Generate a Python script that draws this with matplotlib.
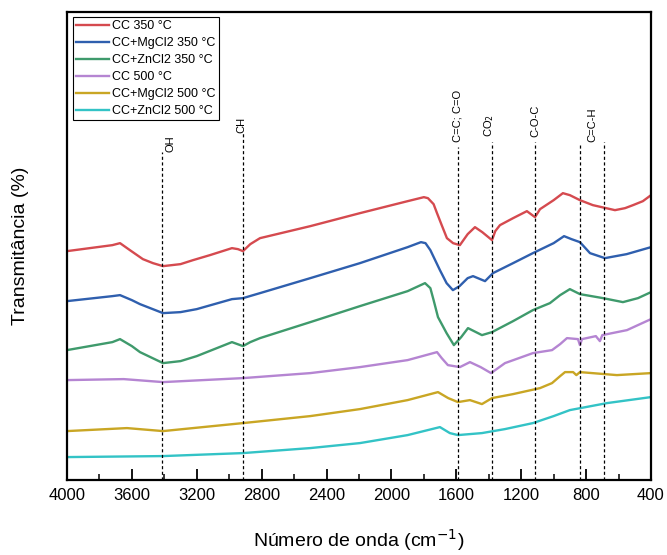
import numpy as np
import matplotlib
matplotlib.use('Agg')
import matplotlib.pyplot as plt
from matplotlib.ticker import MultipleLocator

plt.rcParams['font.family'] = ['Liberation Sans', 'DejaVu Sans']

# FTIR spectra, values (arbitrary offset units)
wn_cc350 = [4000, 3720, 3673, 3612, 3532, 3470, 3408, 3300, 3223, 3119, 2983, 2946, 2915,
            2870, 2810, 2500, 2194, 1900, 1800, 1775, 1740, 1719, 1690, 1658, 1620, 1578,
            1530, 1485, 1440, 1380, 1360, 1331, 1250, 1165, 1115, 1084, 1000, 943, 900,
            838, 758, 622, 560, 511, 450, 400]
t_cc350 = [229, 235, 237, 230, 221, 217, 214, 216, 220, 225, 232, 231, 229,
           236, 242, 254, 267, 279, 283, 282, 276, 267, 255, 242, 237, 235,
           246, 253, 248, 240, 249, 255, 262, 269, 263, 271, 280, 287, 285,
           280, 275, 270, 272, 275, 279, 285]

wn_mg350 = [4000, 3720, 3673, 3600, 3550, 3408, 3300, 3200, 2983, 2915, 2810, 2500,
            2194, 1900, 1818, 1790, 1760, 1701, 1660, 1621, 1580, 1530, 1497, 1423,
            1374, 1250, 1128, 1000, 936, 890, 838, 776, 684, 550, 400]
t_mg350 = [179, 184, 185, 180, 176, 167, 168, 171, 181, 182, 187, 202,
           217, 233, 238, 237, 230, 210, 197, 190, 194, 202, 204, 199,
           207, 217, 227, 237, 244, 241, 238, 227, 222, 226, 233]

wn_zn350 = [4000, 3720, 3673, 3600, 3550, 3408, 3300, 3200, 2983, 2915, 2870, 2810,
            2500, 2194, 1900, 1793, 1760, 1740, 1713, 1660, 1615, 1570, 1528, 1442,
            1380, 1250, 1128, 1023, 960, 900, 838, 696, 573, 480, 400]
t_zn350 = [130, 138, 141, 134, 128, 117, 119, 124, 138, 134, 138, 142,
           158, 174, 189, 197, 192, 180, 163, 147, 135, 143, 152, 145,
           148, 159, 170, 177, 185, 191, 186, 182, 178, 182, 188]

wn_cc500 = [4000, 3650, 3408, 2915, 2500, 2194, 1900, 1719, 1690, 1652, 1578, 1516,
            1450, 1386, 1300, 1128, 1010, 960, 918, 850, 838, 825, 740, 715, 700,
            548, 400]
t_cc500 = [100, 101, 98, 102, 107, 113, 120, 128, 122, 115, 113, 118,
           113, 107, 117, 127, 130, 136, 142, 141, 135, 141, 144, 139, 145,
           150, 161]

wn_mg500 = [4000, 3630, 3408, 2915, 2500, 2194, 1900, 1713, 1650, 1590, 1516, 1442,
            1380, 1250, 1084, 1010, 960, 930, 880, 860, 838, 610, 400]
t_mg500 = [49, 52, 49, 57, 64, 71, 80, 88, 82, 78, 80, 76,
           82, 86, 92, 97, 104, 108, 108, 105, 108, 105, 107]

wn_zn500 = [4000, 3408, 2915, 2500, 2194, 1900, 1701, 1640, 1590, 1442, 1300, 1128,
            1000, 900, 671, 400]
t_zn500 = [23, 24, 27, 32, 37, 45, 53, 47, 45, 47, 51, 57,
           64, 70, 77, 83]

series = [
    ('CC 350 °C', wn_cc350, t_cc350, '#d54a4f'),
    ('CC+MgCl2 350 °C', wn_mg350, t_mg350, '#2f5fae'),
    ('CC+ZnCl2 350 °C', wn_zn350, t_zn350, '#3f9a6c'),
    ('CC 500 °C', wn_cc500, t_cc500, '#b585d2'),
    ('CC+MgCl2 500 °C', wn_mg500, t_mg500, '#c9a624'),
    ('CC+ZnCl2 500 °C', wn_zn500, t_zn500, '#33c3c6'),
]

# band markers: position, label, top of dashed line
band_pos = [3415, 2915, 1590, 1380, 1115, 838, 690]
band_top = [328, 347, 333, 338, 338, 335, 338]
band_labels = [('OH', 3360, 328), ('CH', 2925, 347), ('C=C; C=O', 1590, 338),
               (r'CO$_2$', 1395, 343), ('C-O-C', 1115, 343), ('C=C-H', 764, 338)]

fig = plt.figure(figsize=(6.67, 5.55), dpi=100)
ax = fig.add_axes([0.1004, 0.135, 0.8756, 0.843])

for name, wn, t, c in series:
    ax.plot(wn, t, color=c, lw=1.7, label=name)

for x, top in zip(band_pos, band_top):
    ax.plot([x, x], [0, top], color='black', lw=0.9, ls=(0, (2.5, 2)))

for txt, x, y in band_labels:
    ax.text(x, y, txt, rotation=90, ha='center', va='bottom', fontsize=8)

ax.set_xlim(4000, 400)
ax.set_ylim(0, 468)
ax.xaxis.set_major_locator(MultipleLocator(400))
ax.xaxis.set_minor_locator(MultipleLocator(200))
ax.tick_params(axis='x', which='major', direction='in', length=8, width=1.3, labelsize=12, pad=6)
ax.tick_params(axis='x', which='minor', direction='in', length=4, width=1.1)
ax.set_yticks([])
for s in ax.spines.values():
    s.set_linewidth(1.6)

ax.set_xlabel('Número de onda (cm$^{-1}$)', fontsize=14, labelpad=17)
ax.set_ylabel('Transmitância (%)', fontsize=14, labelpad=27)

leg = ax.legend(loc='upper left', bbox_to_anchor=(0.006, 0.995), fontsize=9,
                frameon=True, fancybox=False, edgecolor='black', framealpha=1,
                handlelength=2.6, handletextpad=0.3, borderpad=0.25,
                labelspacing=0.4, borderaxespad=0.2)
leg.get_frame().set_linewidth(0.8)

fig.savefig('out.png', dpi=100)
